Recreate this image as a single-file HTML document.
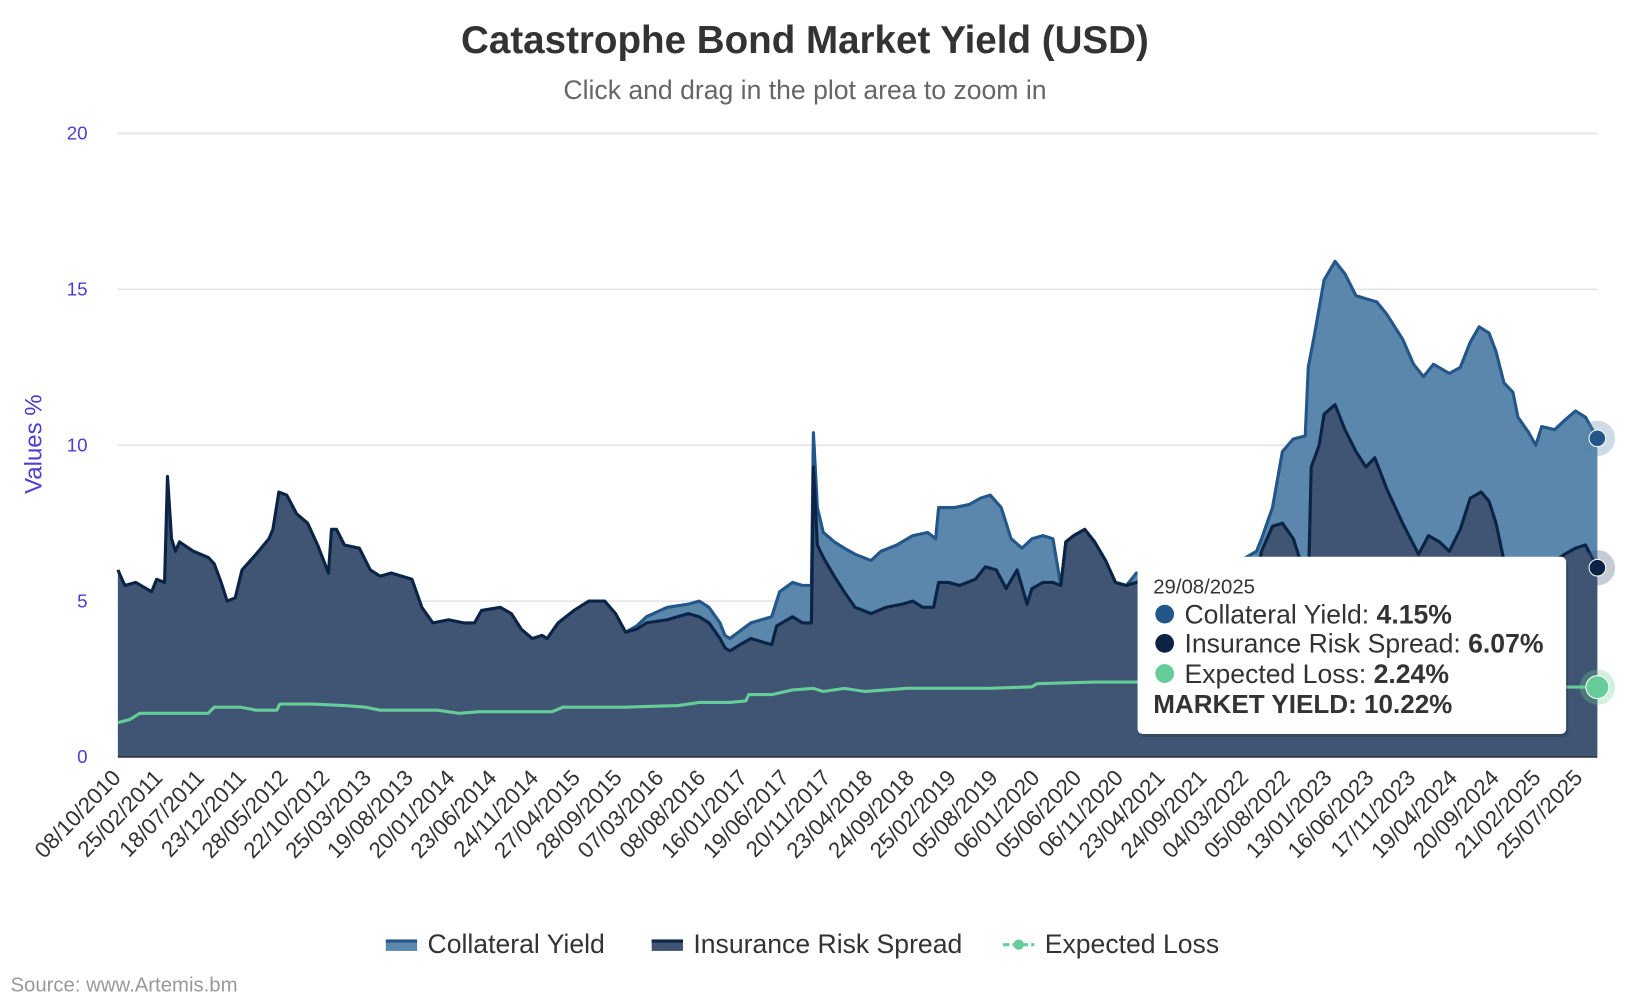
<!DOCTYPE html>
<html><head><meta charset="utf-8"><style>
html,body{margin:0;padding:0;background:#fff;}
svg{display:block;font-family:"Liberation Sans",sans-serif;}
</style></head><body>
<svg id="chart" width="1636" height="1002" viewBox="0 0 1569 961" xmlns="http://www.w3.org/2000/svg">
<text x="772" y="51" text-anchor="middle" font-size="37" font-weight="bold" fill="#333">Catastrophe Bond Market Yield (USD)</text>
<text x="772" y="95" text-anchor="middle" font-size="25.5" fill="#666">Click and drag in the plot area to zoom in</text>
<g id="grid"></g>
<g id="plot"></g>
<g id="xaxis"></g>
<g id="yaxis"></g>
<text transform="translate(40,426) rotate(-90)" text-anchor="middle" font-size="23" fill="#4a3fcf">Values %</text>
<g>
<g><rect x="370" y="902" width="30" height="10" fill="#5a87ab"/><rect x="370" y="901" width="30" height="3" fill="#23578a"/><text x="410" y="914" font-size="25.5" fill="#333">Collateral Yield</text></g>
<g><rect x="625" y="902" width="30" height="10" fill="#3f5573"/><rect x="625" y="901" width="30" height="3" fill="#0b2345"/><text x="665" y="914" font-size="25.5" fill="#333">Insurance Risk Spread</text></g>
<g><line x1="962" y1="906" x2="992" y2="906" stroke="#66cc99" stroke-width="3" stroke-dasharray="6,3"/><circle cx="977" cy="906" r="5" fill="#66cc99"/><text x="1002" y="914" font-size="25.5" fill="#333">Expected Loss</text></g>
</g>
<text x="10" y="951" font-size="19.5" fill="#999">Source: www.Artemis.bm</text>
<g id="markers"></g>
<g>
<rect x="1091" y="534" width="411" height="170" rx="5" fill="#000" opacity="0.15" transform="translate(2,3)"/>
<rect x="1091" y="534" width="411" height="170" rx="5" fill="#fff"/>
<text x="1106" y="569" font-size="19.5" fill="#333">29/08/2025</text>
<circle cx="1117" cy="589" r="9" fill="#23578a"/><text x="1136" y="598" font-size="25.5" fill="#333">Collateral Yield: <tspan font-weight="bold">4.15%</tspan></text>
<circle cx="1117" cy="617" r="9" fill="#0b2345"/><text x="1136" y="626" font-size="25.5" fill="#333">Insurance Risk Spread: <tspan font-weight="bold">6.07%</tspan></text>
<circle cx="1117" cy="646" r="9" fill="#66cc99"/><text x="1136" y="655" font-size="25.5" fill="#333">Expected Loss: <tspan font-weight="bold">2.24%</tspan></text>
<text x="1106" y="684" font-size="25" font-weight="bold" fill="#333">MARKET YIELD: 10.22%</text>
</g>
</svg>
<script>
const spreadDates=[2010.77,2010.84,2010.95,2011.11,2011.16,2011.24,2011.27,2011.31,2011.35,2011.39,2011.53,2011.68,2011.74,2011.81,2011.87,2011.95,2012.02,2012.16,2012.29,2012.33,2012.39,2012.47,2012.57,2012.68,2012.78,2012.89,2012.92,2012.97,2013.05,2013.20,2013.31,2013.41,2013.52,2013.73,2013.83,2013.94,2014.10,2014.25,2014.36,2014.43,2014.62,2014.73,2014.83,2014.94,2015.04,2015.09,2015.20,2015.36,2015.51,2015.67,2015.78,2015.88,2015.99,2016.09,2016.30,2016.51,2016.62,2016.72,2016.83,2016.88,2016.93,2017.03,2017.14,2017.35,2017.40,2017.56,2017.66,2017.75,2017.77,2017.81,2017.87,2017.98,2018.08,2018.19,2018.35,2018.50,2018.66,2018.77,2018.87,2018.98,2019.03,2019.13,2019.24,2019.40,2019.50,2019.61,2019.71,2019.82,2019.92,2019.97,2020.08,2020.18,2020.26,2020.31,2020.39,2020.50,2020.60,2020.71,2020.81,2020.92,2021.02,2021.13,2021.65,2022.07,2022.23,2022.28,2022.39,2022.49,2022.60,2022.68,2022.75,2022.78,2022.86,2022.91,2023.02,2023.12,2023.23,2023.33,2023.42,2023.54,2023.70,2023.86,2023.96,2024.07,2024.17,2024.28,2024.38,2024.49,2024.57,2024.64,2024.72,2024.81,2025.00,2025.33,2025.44,2025.54,2025.66];
const spreadVals=[6.0,5.5,5.6,5.3,5.7,5.6,9.0,7.0,6.6,6.9,6.6,6.4,6.2,5.6,5.0,5.1,6.0,6.5,7.0,7.3,8.5,8.4,7.8,7.5,6.8,5.9,7.3,7.3,6.8,6.7,6.0,5.8,5.9,5.7,4.8,4.3,4.4,4.3,4.3,4.7,4.8,4.6,4.1,3.8,3.9,3.8,4.3,4.7,5.0,5.0,4.6,4.0,4.1,4.3,4.4,4.6,4.5,4.3,3.8,3.5,3.4,3.6,3.8,3.6,4.2,4.5,4.3,4.3,9.3,6.8,6.4,5.8,5.3,4.8,4.6,4.8,4.9,5.0,4.8,4.8,5.6,5.6,5.5,5.7,6.1,6.0,5.4,6.0,4.9,5.4,5.6,5.6,5.5,6.9,7.1,7.3,6.9,6.3,5.6,5.5,5.6,5.8,5.7,5.5,5.8,6.6,7.4,7.5,7.0,6.2,5.3,9.3,10.0,11.0,11.3,10.5,9.8,9.3,9.6,8.6,7.5,6.5,7.1,6.9,6.6,7.3,8.3,8.5,8.2,7.5,6.3,5.5,5.8,6.5,6.7,6.8,6.07];
const totalDates=[2015.88,2015.99,2016.09,2016.30,2016.51,2016.62,2016.72,2016.83,2016.88,2016.93,2017.14,2017.35,2017.43,2017.56,2017.66,2017.75,2017.77,2017.81,2017.87,2017.98,2018.08,2018.19,2018.35,2018.45,2018.61,2018.77,2018.92,2019.00,2019.03,2019.19,2019.34,2019.45,2019.55,2019.66,2019.76,2019.87,2019.97,2020.08,2020.18,2020.26,2020.31,2020.39,2020.50,2020.60,2020.71,2020.81,2020.92,2021.02,2021.13,2021.65,2022.07,2022.23,2022.28,2022.39,2022.49,2022.60,2022.72,2022.75,2022.81,2022.91,2023.02,2023.12,2023.23,2023.33,2023.44,2023.54,2023.70,2023.81,2023.91,2024.01,2024.17,2024.28,2024.38,2024.47,2024.57,2024.64,2024.72,2024.81,2024.86,2024.97,2025.04,2025.10,2025.23,2025.33,2025.44,2025.54,2025.66];
const totalVals=[4.0,4.2,4.5,4.8,4.9,5.0,4.8,4.3,3.9,3.8,4.3,4.5,5.3,5.6,5.5,5.5,10.4,8.0,7.2,6.9,6.7,6.5,6.3,6.6,6.8,7.1,7.2,7.0,8.0,8.0,8.1,8.3,8.4,8.0,7.0,6.7,7.0,7.1,7.0,5.5,6.9,7.1,7.3,6.9,6.3,5.6,5.5,5.9,5.9,6.0,6.3,6.6,7.0,8.0,9.8,10.2,10.3,12.5,13.5,15.3,15.9,15.5,14.8,14.7,14.6,14.2,13.4,12.6,12.2,12.6,12.3,12.5,13.3,13.8,13.6,13.0,12.0,11.7,10.9,10.4,10.0,10.6,10.5,10.8,11.1,10.9,10.22];
const lossDates=[2010.77,2010.89,2010.99,2011.15,2011.68,2011.74,2012.00,2012.16,2012.37,2012.40,2012.73,2013.05,2013.26,2013.41,2013.57,2013.99,2014.20,2014.41,2015.14,2015.25,2015.88,2016.41,2016.62,2016.93,2017.09,2017.12,2017.35,2017.56,2017.77,2017.87,2018.08,2018.29,2018.71,2019.55,2019.97,2020.02,2020.60,2021.02,2025.33,2025.66];
const lossVals=[1.1,1.2,1.4,1.4,1.4,1.6,1.6,1.5,1.5,1.7,1.7,1.65,1.6,1.5,1.5,1.5,1.4,1.45,1.45,1.6,1.6,1.65,1.75,1.75,1.8,2.0,2.0,2.15,2.2,2.1,2.2,2.1,2.2,2.2,2.25,2.35,2.4,2.4,2.24,2.24];
const yTicks=[0,5,10,15,20];
const xTickLabels=["08/10/2010","25/02/2011","18/07/2011","23/12/2011","28/05/2012","22/10/2012","25/03/2013","19/08/2013","20/01/2014","23/06/2014","24/11/2014","27/04/2015","28/09/2015","07/03/2016","08/08/2016","16/01/2017","19/06/2017","20/11/2017","23/04/2018","24/09/2018","25/02/2019","05/08/2019","06/01/2020","05/06/2020","06/11/2020","23/04/2021","24/09/2021","04/03/2022","05/08/2022","13/01/2023","16/06/2023","17/11/2023","19/04/2024","20/09/2024","21/02/2025","25/07/2025"];
</script>
<script>
const NS="http://www.w3.org/2000/svg";
const L=113,R=1532,T=128,B=726,X0=2010.77,X1=2025.66;
const xs=v=>L+(v-X0)/(X1-X0)*(R-L);
const ys=v=>B-v/20*(B-T);
function mk(tag,attrs,parent){const e=document.createElementNS(NS,tag);for(const k in attrs)e.setAttribute(k,attrs[k]);parent.appendChild(e);return e;}
const grid=document.getElementById('grid'),plot=document.getElementById('plot'),xa=document.getElementById('xaxis'),ya=document.getElementById('yaxis'),mkrs=document.getElementById('markers');
yTicks.forEach(t=>{
 const g=mk('line',{x1:L,x2:R,y1:ys(t),y2:ys(t),stroke:'#e3e3e3','stroke-width':1.5},grid);
 
 
 const tx=mk('text',{x:84,y:ys(t)+6,'text-anchor':'end','font-size':18,fill:'#4a3fcf'},ya);
 
 
 tx.textContent=t;
});
const pts=(d,v)=>d.map((x,i)=>xs(x).toFixed(1)+','+ys(v[i]).toFixed(1));
function interp(d,v,x){for(let i=1;i<d.length;i++){if(d[i]>=x){const f=(x-d[i-1])/(d[i]-d[i-1]);return v[i-1]+f*(v[i]-v[i-1]);}}return v[v.length-1];}
const sp0=totalDates[0];
const back=[];for(let i=spreadDates.length-1;i>=0;i--){if(spreadDates[i]>=sp0)back.push(xs(spreadDates[i]).toFixed(1)+','+ys(spreadVals[i]).toFixed(1));}
back.push(xs(sp0).toFixed(1)+','+ys(interp(spreadDates,spreadVals,sp0)).toFixed(1));
const ca=mk('polygon',{points:pts(totalDates,totalVals).join(' ')+' '+back.join(' '),fill:'#5a87ab'},plot);


const cl=mk('polyline',{points:pts(totalDates,totalVals).join(' '),fill:'none',stroke:'#23578a','stroke-width':3,'stroke-linejoin':'round'},plot);


const sa=mk('polygon',{points:xs(spreadDates[0])+','+B+' '+pts(spreadDates,spreadVals).join(' ')+' '+xs(spreadDates[spreadDates.length-1])+','+B,fill:'#3f5573'},plot);


const sl=mk('polyline',{points:pts(spreadDates,spreadVals).join(' '),fill:'none',stroke:'#0b2345','stroke-width':3,'stroke-linejoin':'round'},plot);


const ll=mk('polyline',{points:pts(lossDates,lossVals).join(' '),fill:'none',stroke:'#66cc99','stroke-width':3,'stroke-linejoin':'round'},plot);


const base=mk('line',{x1:L,x2:R,y1:B,y2:B,stroke:'#333','stroke-width':1.5},plot);


const step=(1515-113)/35;
xTickLabels.forEach((lab,i)=>{
 const x=L+i*step;
 const t=mk('text',{x:x+4,y:747,'text-anchor':'end','font-size':21.5,fill:'#333',transform:`rotate(-46 ${x+4} 747)`},xa);
 
 
 t.textContent=lab;
});
const last=[[totalVals[totalVals.length-1],'#23578a','#5a87ab','collateral-yield-marker'],[spreadVals[spreadVals.length-1],'#0b2345','#3f5573','insurance-risk-spread-marker'],[lossVals[lossVals.length-1],'#66cc99','#66cc99','expected-loss-marker']];
last.forEach(m=>{
 mk('circle',{cx:R,cy:ys(m[0]),r:17,fill:m[2],opacity:0.3},mkrs);
 const c=mk('circle',{cx:R,cy:ys(m[0]),r:m[3]==='expected-loss-marker'?11:8,fill:m[1],stroke:'#fff','stroke-width':1},mkrs);
 
 
});
</script>
</body></html>
